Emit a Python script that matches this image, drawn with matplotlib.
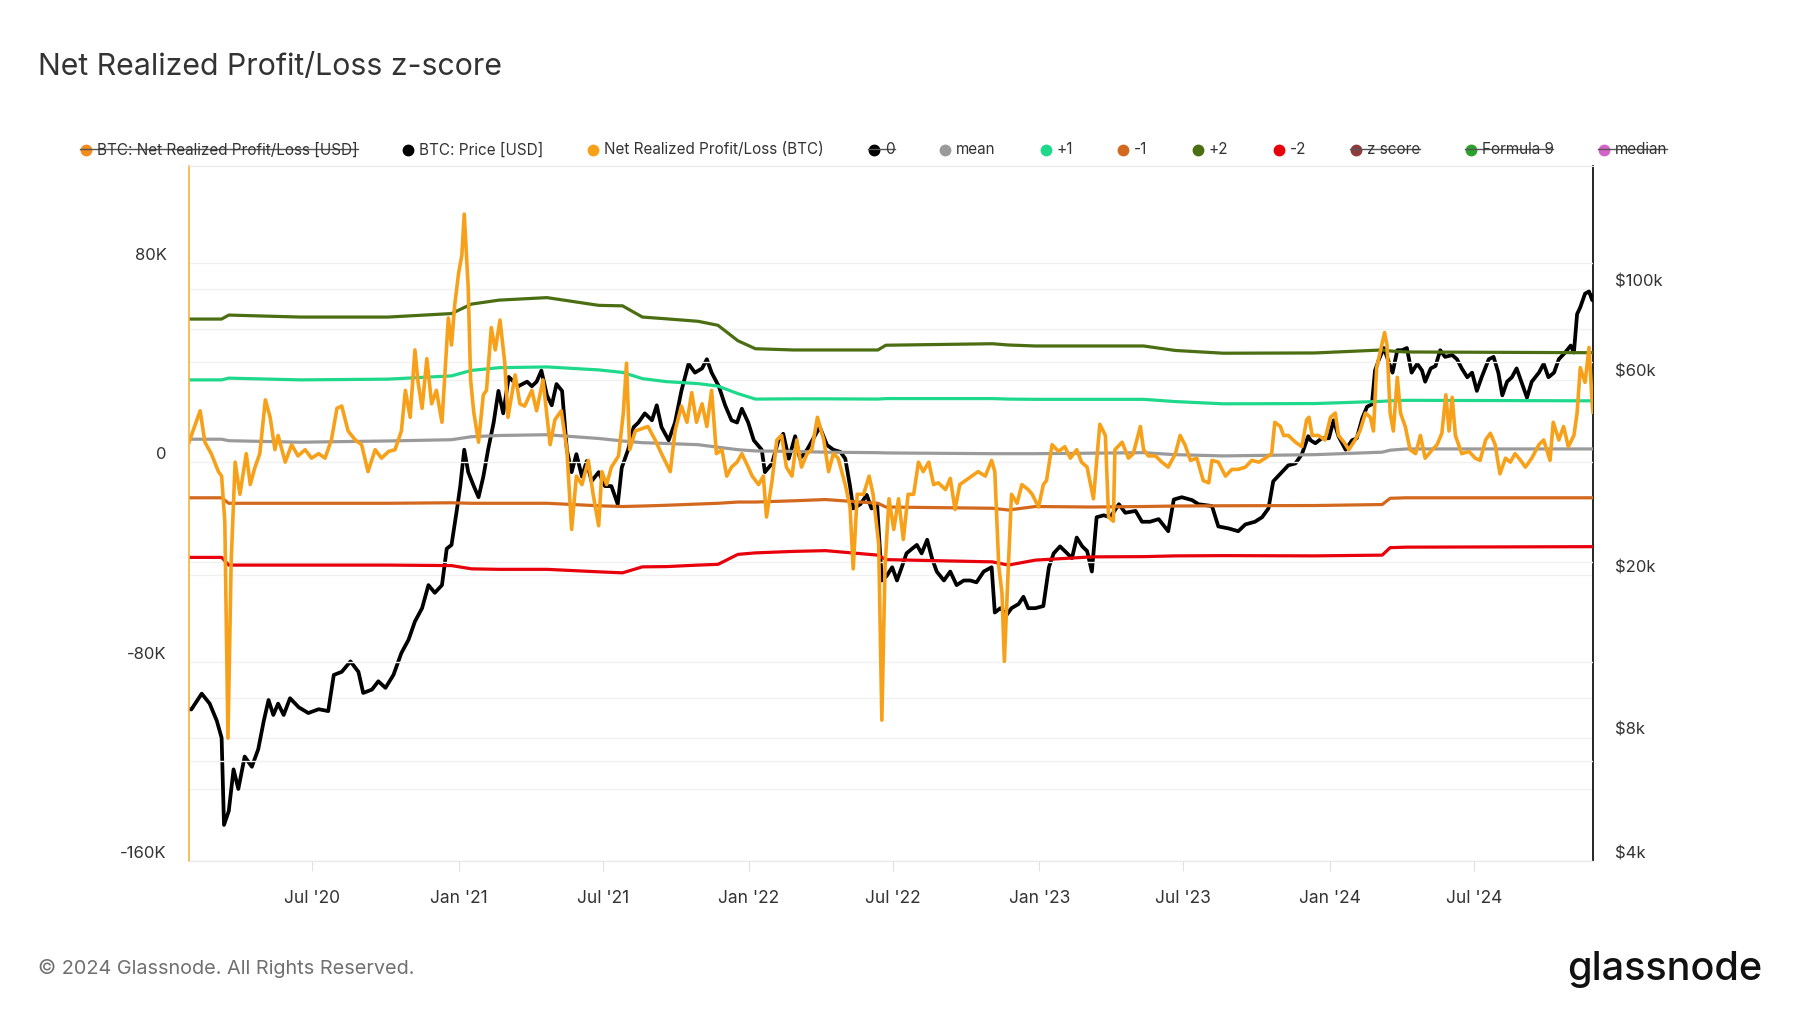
import matplotlib.pyplot as plt
from matplotlib.lines import Line2D
from matplotlib.transforms import ScaledTranslation
import numpy as np
import pandas as pd

plt.rcParams['font.family'] = ['Inter', 'DejaVu Sans']

# x values are days since the first day shown (2020-01-28)
start = pd.Timestamp('2020-01-28')
last_day = 1765

# Net Realized Profit/Loss (BTC), thousands of BTC
pnl = [
    (0, 8), (3, 10.7), (14, 20.6), (20, 8), (28, 3.4), (37, -3.8), (41, -5.6), (45, -23.7),
    (49, -110.7), (53, -40), (58, 0), (64, -12.9), (72, 3.4), (77, -9), (83, -2), (89, 3.4),
    (96, 25), (102, 18), (108, 5), (112, 10.7), (121, 0), (129, 7), (137, 2.5), (146, 5),
    (154, 1.6), (163, 3.4), (171, 1.6), (179, 8.9), (186, 21.6), (192, 22.5), (200, 12.5),
    (209, 8.9), (217, 7), (225, -3.8), (234, 5), (242, 1.6), (251, 4.3), (259, 5), (267, 12.5),
    (272, 28.8), (278, 18), (284, 45), (288, 32), (293, 21.6), (299, 41.5), (305, 23.4),
    (311, 28.8), (318, 16), (326, 57.8), (330, 47), (334, 63), (339, 76), (343, 83), (346, 99.5),
    (351, 70), (354, 33), (358, 20), (364, 8), (370, 27), (374, 28.8), (380, 54), (385, 45),
    (391, 57), (397, 39.7), (401, 18), (410, 35), (416, 23.4), (422, 22.5), (431, 28.8),
    (437, 20.6), (445, 33), (454, 7), (460, 17), (468, 20.6), (475, 5), (481, -27), (487, -5.6),
    (494, -9), (502, 0.7), (508, -12.9), (515, -25.5), (519, -3.8), (525, -9), (531, -2),
    (540, 2.5), (546, 19.7), (550, 39.7), (554, 5), (561, 12.5), (569, 13.4), (577, 14.3),
    (586, 8.9), (594, 3.4), (605, -3.8), (611, 12.5), (619, 22.5), (626, 16), (632, 27.9),
    (638, 16), (645, 23.4), (651, 14.3), (657, 28.8), (663, 3.4), (670, 5), (676, -5.6),
    (682, -2), (689, 0), (695, 3.4), (703, -2), (708, -5.6), (716, -9), (722, -5.6), (726, -22),
    (733, -7.4), (739, 8.9), (745, 10.7), (751, -2), (758, -5.6), (764, 8.9), (770, -2),
    (777, 3.4), (783, 5), (790, 18), (798, 8.9), (804, -3.8), (810, 3.4), (816, 1.6), (825, -9),
    (831, -18), (835, -42.8), (840, -12.9), (848, -12.9), (855, -5.6), (860, -12.9),
    (867, -32.8), (871, -103.5), (875, -41.9), (880, -14.7), (886, -27), (892, -14.7),
    (898, -31), (904, -12.9), (911, -12.9), (917, 0), (923, -3.8), (930, 0), (936, -9),
    (942, -8.3), (951, -11), (957, -6.5), (963, -19), (969, -9), (976, -7.4), (984, -5.6),
    (992, -3.8), (1001, -5.6), (1009, 0.7), (1013, -3.8), (1018, -41.9), (1022, -52.5),
    (1025, -79.9), (1030, -41.9), (1034, -12.9), (1041, -16.5), (1047, -9), (1055, -11),
    (1060, -12.9), (1068, -18), (1074, -9), (1078, -7.4), (1085, 7), (1093, 4.3), (1101, 6.2),
    (1108, 1.6), (1116, 5), (1122, 0), (1129, -2), (1137, -14.7), (1145, 15.2), (1152, 10.7),
    (1156, -22), (1162, -23.7), (1164, 5), (1173, 8), (1181, 1.6), (1187, 3.4), (1196, 14.3),
    (1200, 5), (1206, 2.5), (1215, 2.5), (1223, 0), (1231, -2), (1240, 3.4), (1246, 10.7),
    (1252, 7), (1259, 0.7), (1267, 1.6), (1275, -7.4), (1282, -8.3), (1286, 0.7), (1294, 0),
    (1303, -5.6), (1311, -2.9), (1319, -2.9), (1328, -2), (1336, 0.7), (1345, 0), (1353, 1.6),
    (1361, 3.4), (1365, 16), (1372, 14.3), (1376, 10.7), (1382, 10.7), (1391, 8), (1399, 6.2),
    (1405, 17), (1408, 18), (1412, 10.7), (1420, 10.7), (1428, 8.9), (1435, 18), (1441, 19.7),
    (1445, 10.7), (1452, 8), (1458, 5), (1466, 8.9), (1472, 12.5), (1479, 19.7), (1485, 18),
    (1489, 12.5), (1493, 37.9), (1498, 45), (1503, 52), (1506, 47), (1510, 19.7), (1514, 12.5),
    (1519, 34), (1523, 19.7), (1529, 14.3), (1535, 5), (1542, 3.4), (1548, 10.7), (1554, 1.6),
    (1563, 5), (1569, 7), (1575, 11.6), (1580, 27), (1584, 12.5), (1588, 26), (1592, 10.7),
    (1600, 3.4), (1609, 4.3), (1617, 1.6), (1623, 0.7), (1630, 8.9), (1636, 11.6), (1642, 7),
    (1648, -4.7), (1655, 1.6), (1661, 0), (1667, 3.4), (1674, 0.7), (1680, -2), (1688, 1.6),
    (1697, 7), (1703, 8.9), (1711, 0.7), (1715, 16), (1722, 8.9), (1728, 14.3), (1734, 6.2),
    (1741, 10.7), (1745, 19.7), (1749, 37.9), (1755, 32), (1760, 46), (1764, 23.4), (1765, 20),
]

# BTC price, thousands of USD
price = [
    (0, 9.4), (3, 9.39), (16, 10.26), (26, 9.7), (35, 8.8), (41, 8.0), (44, 4.9), (50, 5.3),
    (56, 6.7), (62, 6.0), (70, 7.2), (79, 6.8), (87, 7.5), (94, 8.8), (100, 9.9), (106, 9.1),
    (112, 9.7), (119, 9.1), (127, 10.0), (138, 9.5), (150, 9.2), (163, 9.4), (175, 9.3),
    (182, 11.4), (192, 11.6), (203, 12.3), (213, 11.6), (219, 10.3), (230, 10.5), (238, 11.0),
    (247, 10.6), (257, 11.4), (267, 12.9), (276, 13.9), (284, 15.4), (293, 16.6), (301, 18.9),
    (309, 18.1), (318, 18.9), (324, 23.2), (330, 23.7), (337, 29.1), (341, 33.0), (346, 40.5),
    (351, 35.7), (358, 33), (364, 31), (370, 34.8), (376, 40.5), (383, 47.2), (389, 56.4),
    (395, 49.7), (402, 61), (414, 57.9), (425, 59.4), (431, 57.9), (437, 59.4), (443, 63.2),
    (450, 55), (456, 52), (462, 58.6), (469, 56.4), (475, 40.5), (481, 35.7), (487, 39.5),
    (494, 34.8), (500, 38), (506, 33.9), (515, 35.7), (523, 33), (531, 33), (539, 29.8),
    (544, 36.6), (552, 40.5), (559, 46), (565, 47.2), (573, 49.7), (582, 47.8), (588, 52),
    (594, 46), (603, 42.7), (611, 47.2), (619, 56.4), (628, 65.7), (636, 62.5), (645, 64),
    (651, 67.4), (657, 62.5), (666, 57.9), (674, 52), (682, 47.8), (689, 47.2), (695, 51),
    (703, 47.2), (710, 42.7), (720, 40.5), (724, 35.7), (733, 37.5), (741, 42.7), (747, 44.3),
    (754, 38.5), (762, 43.7), (768, 38.5), (777, 40.5), (785, 43.2), (793, 46), (802, 41.6),
    (810, 40.5), (819, 40), (825, 38.5), (831, 33), (835, 29.1), (844, 29.8), (852, 31.4),
    (858, 29.1), (865, 29.8), (871, 19.4), (877, 19.9), (884, 20.9), (890, 19.4), (896, 20.9),
    (902, 22.6), (909, 23.2), (915, 23.7), (921, 22.6), (928, 24.4), (934, 22), (940, 20.4),
    (949, 19.4), (957, 20.4), (965, 18.9), (974, 19.4), (982, 19.4), (990, 19.2), (999, 20.4),
    (1009, 20.9), (1013, 16.2), (1020, 16.6), (1028, 16.0), (1034, 16.6), (1043, 17),
    (1049, 17.7), (1055, 16.6), (1064, 16.6), (1074, 16.8), (1081, 20.9), (1087, 22.6),
    (1095, 23.5), (1104, 22.6), (1110, 22), (1116, 24.7), (1123, 23.5), (1129, 22.9),
    (1135, 20.4), (1141, 27.7), (1150, 28), (1158, 27.7), (1169, 29.8), (1177, 28.4),
    (1190, 28.7), (1198, 27), (1208, 27), (1219, 27.4), (1231, 25.6), (1238, 30.6), (1248, 31),
    (1261, 30.5), (1269, 29.8), (1286, 29.5), (1294, 26.3), (1307, 26), (1319, 25.6),
    (1328, 26.6), (1340, 27), (1349, 27.7), (1357, 29.1), (1363, 33.9), (1374, 35.7),
    (1382, 37.1), (1391, 37.5), (1399, 39.5), (1407, 43.7), (1410, 42.7), (1416, 42),
    (1424, 43.2), (1433, 43.2), (1439, 47.8), (1445, 43.7), (1454, 40.5), (1462, 42.7),
    (1468, 43.2), (1475, 48.4), (1481, 51.6), (1487, 52.3), (1491, 63.3), (1496, 67.4),
    (1502, 71.8), (1508, 66.6), (1513, 62.5), (1519, 70.9), (1525, 70.9), (1531, 71.8),
    (1537, 62.5), (1544, 65.7), (1550, 63.3), (1554, 59.4), (1561, 64), (1567, 64.9),
    (1573, 70.9), (1579, 68.3), (1588, 69), (1594, 67.4), (1600, 64), (1607, 60.9),
    (1613, 62.5), (1619, 56.4), (1625, 60.9), (1634, 67.4), (1640, 68.3), (1646, 62.5),
    (1651, 55), (1657, 59.4), (1663, 60.9), (1669, 64), (1676, 58.6), (1682, 54.3),
    (1688, 59.4), (1697, 62.5), (1703, 65.7), (1709, 60.9), (1716, 62.5), (1722, 67.4),
    (1730, 70), (1737, 72.8), (1741, 70), (1745, 86.9), (1749, 90.3), (1755, 97.5),
    (1760, 98.7), (1764, 94), (1765, 96.3),
]

# z-score bands, thousands of BTC
band_days = [0, 41, 50, 140, 250, 330, 355, 390, 450, 515, 545, 570, 600, 640, 665, 690, 712,
             760, 800, 866, 876, 1010, 1030, 1064, 1135, 1200, 1240, 1300, 1415, 1500, 1510,
             1530, 1765]
plus2 = [57.4, 57.4, 59.0, 58.2, 58.2, 59.6, 63.4, 65.0, 66.0, 62.9, 62.7, 58.2, 57.5, 56.5,
         54.9, 48.7, 45.5, 45.0, 45.0, 45.0, 46.9, 47.5, 47.0, 46.6, 46.6, 46.6, 44.8, 43.7,
         43.8, 45.0, 44.6, 44.2, 43.9]
plus1 = [33.0, 33.0, 33.7, 33.0, 33.3, 34.6, 36.8, 37.9, 38.2, 37.0, 36.0, 33.5, 32.3, 31.5,
         30.5, 27.5, 25.3, 25.4, 25.4, 25.3, 25.5, 25.5, 25.3, 25.2, 25.2, 25.2, 24.3, 23.4,
         23.5, 24.4, 24.6, 24.8, 24.6]
mean = [9.2, 9.2, 8.6, 8.0, 8.5, 9.0, 10.2, 10.7, 11.0, 9.5, 8.5, 7.8, 7.5, 7.0, 6.0, 5.0, 4.5,
        4.3, 4.0, 3.8, 3.7, 3.4, 3.4, 3.4, 3.6, 3.8, 3.0, 2.5, 3.0, 4.0, 4.8, 5.3, 5.3]
minus1 = [-14.3, -14.3, -16.5, -16.5, -16.5, -16.3, -16.5, -16.5, -16.5, -17.5, -17.8, -17.6,
          -17.3, -16.8, -16.5, -16.0, -16.0, -15.5, -15.0, -16.5, -18.0, -18.5, -19.2, -17.8,
          -18.0, -17.8, -17.6, -17.5, -17.4, -17.0, -14.5, -14.3, -14.3]
minus2 = [-38.2, -38.2, -41.3, -41.3, -41.3, -41.5, -42.8, -43.0, -43.0, -44.0, -44.4, -42.0,
          -41.9, -41.3, -41.0, -37.0, -36.4, -35.8, -35.5, -37.3, -39.1, -40.0, -41.3, -39.3,
          -38.0, -37.9, -37.6, -37.5, -37.6, -37.3, -34.3, -34.1, -33.9]

xtick_dates = ['2020-07-01', '2021-01-01', '2021-07-01', '2022-01-01', '2022-07-01',
               '2023-01-01', '2023-07-01', '2024-01-01', '2024-07-01']
xtick_labels = ["Jul '20", "Jan '21", "Jul '21", "Jan '22", "Jul '22",
                "Jan '23", "Jul '23", "Jan '24", "Jul '24"]

left_ticks = [-160000, -120000, -80000, -40000, 0, 40000, 80000]
left_labels = ['-160K', '', '-80K', '', '0', '', '80K']
right_ticks = [4000, 6000, 8000, 10000, 20000, 60000, 80000, 100000]
right_labels = ['$4k', '', '$8k', '', '$20k', '$60k', '', '$100k']

legend_items = [
    ('BTC: Net Realized Profit/Loss [USD]', '#F28C1E', True),
    ('BTC: Price [USD]', '#000000', False),
    ('Net Realized Profit/Loss (BTC)', '#F7A11A', False),
    ('0', '#000000', True),
    ('mean', '#9A9A9A', False),
    ('+1', '#1ED98B', False),
    ('-1', '#D2691E', False),
    ('+2', '#4B6E12', False),
    ('-2', '#E8000B', False),
    ('z score', '#8E3B3B', True),
    ('Formula 9', '#2CA02C', True),
    ('median', '#D462C8', True),
]


def to_dates(days):
    return start + pd.to_timedelta(np.asarray(days, dtype=float), unit='D')


W, H = 1800, 1013
fig = plt.figure(figsize=(W / 100, H / 100), dpi=100)
fig.patch.set_facecolor('white')
ax = fig.add_axes([189 / W, 1 - 861 / H, (1593 - 189) / W, (861 - 166) / H])
ax2 = ax.twinx()
ax.set_zorder(2)
ax.patch.set_visible(False)
ax2.set_zorder(1)

# price on the right (log) axis
p_days, p_vals = zip(*price)
ax2.plot(to_dates(p_days), np.array(p_vals) * 1000, color='#000000', lw=2.7,
         solid_joinstyle='round')
ax2.set_yscale('log')
ax2.set_ylim(4000, 200000)
ax2.set_yticks(right_ticks)
ax2.set_yticklabels(right_labels)
ax2.minorticks_off()

# z-score bands and net realized P/L on the left axis
bd = to_dates(band_days)
ax.plot(bd, np.array(mean) * 1000, color='#9A9A9A', lw=2.3)
ax.plot(bd, np.array(plus1) * 1000, color='#1ED98B', lw=2.3)
ax.plot(bd, np.array(minus1) * 1000, color='#D2691E', lw=2.3)
ax.plot(bd, np.array(plus2) * 1000, color='#4B6E12', lw=2.3)
ax.plot(bd, np.array(minus2) * 1000, color='#E8000B', lw=2.3)
n_days, n_vals = zip(*pnl)
ax.plot(to_dates(n_days), np.array(n_vals) * 1000, color='#F7A11A', lw=2.6,
        solid_joinstyle='round')

ax.set_ylim(-160000, 118800)
ax.set_yticks(left_ticks)
ax.set_yticklabels(left_labels)
ax.set_xlim(start, start + pd.Timedelta(days=last_day))
ax.set_xticks(pd.to_datetime(xtick_dates))
ax.set_xticklabels(xtick_labels)

# grids
for a in (ax, ax2):
    a.grid(axis='y', color='#F0F0F0', lw=1.0)
    a.set_axisbelow(True)
ax.grid(axis='x', visible=False)
ax2.grid(axis='x', visible=False)

# spines
ax.spines['left'].set_color('#F2B33D')
ax.spines['left'].set_linewidth(1.2)
ax.spines['right'].set_visible(False)
ax.spines['top'].set_color('#E8E8E8')
ax.spines['bottom'].set_color('#E8E8E8')
for s in ('left', 'top', 'bottom'):
    ax2.spines[s].set_visible(False)
ax2.spines['right'].set_color('#000000')
ax2.spines['right'].set_linewidth(1.2)

ax.tick_params(axis='x', length=7, color='#E0E0E0', labelsize=12.5, labelcolor='#333333', pad=14)
ax.tick_params(axis='y', length=0, labelsize=12, labelcolor='#333333', pad=16)
ax2.tick_params(axis='y', length=0, labelsize=12, labelcolor='#333333', pad=16)

# glassnode places y labels slightly above their gridlines
shift = ScaledTranslation(0, 9 / 100, fig.dpi_scale_trans)
for lab in ax.get_yticklabels() + ax2.get_yticklabels():
    lab.set_transform(lab.get_transform() + shift)

# title and footer
fig.text(38 / W, 1 - 67 / H, 'Net Realized Profit/Loss z-score', fontsize=21.8,
         color='#333333', va='center', ha='left')
fig.text(38 / W, 1 - 968 / H, '\u00a9 2024 Glassnode. All Rights Reserved.', fontsize=14.3,
         color='#707070', va='center', ha='left')
fig.text(1762 / W, 1 - 970 / H, 'glassnode', fontsize=28.5, color='#111111',
         va='center', ha='right', fontweight='medium')

# legend row with strike-through for hidden series
leg_y = 1 - 150 / H
fig.canvas.draw()
renderer = fig.canvas.get_renderer()
texts = [fig.text(0, leg_y, lab, fontsize=11, color='#333333', va='center', ha='left')
         for lab, _, _ in legend_items]
widths = [t.get_window_extent(renderer).width for t in texts]
x_first, x_last_end, text_off = 86, 1667, 11
gap = (x_last_end - x_first - sum(widths) - text_off * len(widths)) / (len(widths) - 1)
x = x_first
for t, w, (lab, color, hidden) in zip(texts, widths, legend_items):
    t.set_x((x + text_off) / W)
    fig.add_artist(Line2D([x / W], [leg_y], marker='o', ms=7.5, color=color, lw=0,
                          transform=fig.transFigure))
    if hidden:
        fig.add_artist(Line2D([(x - 6) / W, (x + text_off + w) / W], [leg_y + 1 / H] * 2,
                              color='#555555', lw=1.0, transform=fig.transFigure))
    x += text_off + w + gap

fig.savefig('out.png', dpi=100, facecolor='white')
